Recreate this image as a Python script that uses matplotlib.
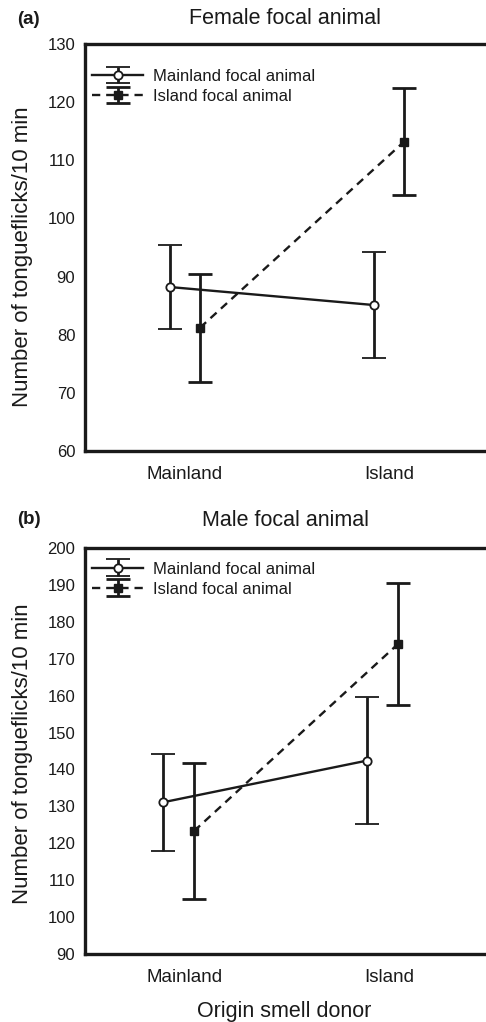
import numpy as np
import matplotlib
matplotlib.use("Agg")
import matplotlib.pyplot as plt

plt.rcParams["font.family"] = ["Liberation Sans", "DejaVu Sans"]

# ------------------------------------------------------------------ data
categories = ["Mainland", "Island"]
series_names = ["Mainland focal animal", "Island focal animal"]

# (a) female focal animal
female_mainland_mean = [88.2, 85.1]
female_mainland_err = [7.2, 9.1]
female_island_mean = [81.2, 113.2]
female_island_err = [9.3, 9.2]

# (b) male focal animal
male_mainland_mean = [131.1, 142.4]
male_mainland_err = [13.2, 17.3]
male_island_mean = [123.3, 174.0]
male_island_err = [18.5, 16.6]

W, H = 486, 1022
INK = "#1a1a1a"
fig = plt.figure(figsize=(W / 100, H / 100), dpi=100)


def px_box(left, top, right, bottom):
    return [left / W, 1 - bottom / H, (right - left) / W, (bottom - top) / H]


def panel(ax, m_mean, m_err, i_mean, i_err, offs, ylim, yticks, leg_y):
    x = np.arange(1, len(categories) + 1)
    ekw = dict(ecolor=INK, elinewidth=2.0, capsize=8.7, capthick=2.0)
    ax.errorbar(x + offs[0], m_mean, yerr=m_err, color=INK,
                linestyle="-", linewidth=1.7, marker="o", markersize=6,
                markerfacecolor="white", markeredgecolor=INK,
                markeredgewidth=1.3, label=series_names[0], zorder=3, **ekw)
    ax.errorbar(x + offs[1], i_mean, yerr=i_err, color=INK,
                linestyle=(0, (3.5, 2.5)), linewidth=1.7, marker="s",
                markersize=5.5, markerfacecolor=INK,
                markeredgecolor=INK, label=series_names[1],
                zorder=3, **ekw)

    ax.set_xlim(0.51, 2.475)
    ax.set_ylim(*ylim)
    ax.set_yticks(yticks)
    ax.set_xticks(x)
    ax.set_xticklabels(categories)
    ax.tick_params(length=0, colors=INK)
    ax.tick_params(axis="y", labelsize=12, pad=7)
    ax.tick_params(axis="x", labelsize=13.5, pad=11)
    for s in ("left", "bottom", "top"):
        ax.spines[s].set_linewidth(2.4)
        ax.spines[s].set_color(INK)
    ax.spines["right"].set_visible(False)

    leg = ax.legend(loc="upper left", frameon=False, fontsize=12,
                    handlelength=3.1, handletextpad=0.6, labelspacing=0.3,
                    borderaxespad=0.0, bbox_to_anchor=(0.0, leg_y))
    for t in leg.get_texts():
        t.set_color(INK)


def labels(ax, letter, title, title_y, ylab_shift):
    y_mid = (ax.get_position().y0 + ax.get_position().y1) / 2
    fig.text(23 / W, y_mid - ylab_shift / H, "Number of tongueflicks/10 min",
             rotation=90, ha="center", va="center", fontsize=16, color=INK)
    fig.text(17 / W, 1 - title_y / H, letter, ha="left", va="center",
             fontsize=13.5, fontweight="bold", color=INK)
    fig.text(285 / W, 1 - title_y / H, title, ha="center", va="center",
             fontsize=15.5, color=INK)


ax_a = fig.add_axes(px_box(85, 44, 486, 451))
panel(ax_a, female_mainland_mean, female_mainland_err,
      female_island_mean, female_island_err, (-0.0735, 0.0735),
      (60, 130), np.arange(60, 131, 10), 0.955)
labels(ax_a, "(a)", "Female focal animal", 19, 9)

ax_b = fig.add_axes(px_box(85, 548, 486, 954))
panel(ax_b, male_mainland_mean, male_mainland_err,
      male_island_mean, male_island_err, (-0.108, 0.044),
      (90, 200), np.arange(90, 201, 10), 0.983)
labels(ax_b, "(b)", "Male focal animal", 520, 3)
fig.text(284 / W, 1 - 1012 / H, "Origin smell donor", ha="center",
         va="center", fontsize=15.5, color=INK)

fig.savefig("out.png", dpi=100)
